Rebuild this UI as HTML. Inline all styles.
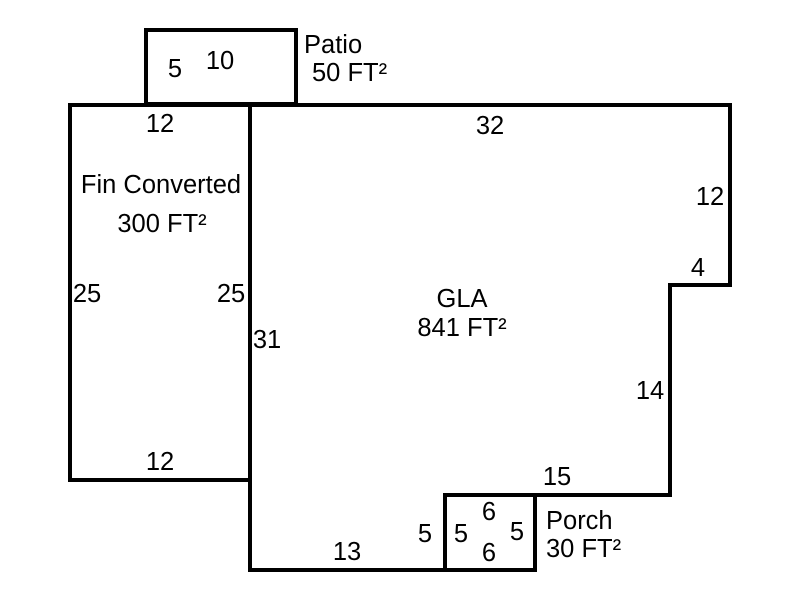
<!DOCTYPE html>
<html><head><meta charset="utf-8"><style>html,body{margin:0;padding:0;background:#fff}svg{display:block}</style></head>
<body>
<svg width="800" height="600" xmlns="http://www.w3.org/2000/svg" font-family="Liberation Sans, Arial, sans-serif" font-size="25.5" fill="#000">
<rect width="800" height="600" fill="#fff"/>
<g fill="none" stroke="#000" stroke-width="4">
<rect x="146" y="30" width="150" height="74"/>
<rect x="70" y="105" width="180" height="375"/>
<polygon points="250,105 730,105 730,285 670,285 670,495 445,495 445,570 250,570"/>
<rect x="445" y="495" width="90" height="75"/>
</g>
<g text-anchor="middle">
<text x="175" y="77">5</text>
<text x="220" y="69">10</text>
<text x="160" y="132">12</text>
<text x="490" y="134">32</text>
<text x="161" y="193">Fin Converted</text>
<text x="162" y="232">300 FT²</text>
<text x="710" y="205">12</text>
<text x="698" y="276">4</text>
<text x="87" y="302">25</text>
<text x="231" y="302">25</text>
<text x="462" y="307">GLA</text>
<text x="462" y="336">841 FT²</text>
<text x="267" y="348">31</text>
<text x="650" y="399">14</text>
<text x="160" y="470">12</text>
<text x="557" y="485">15</text>
<text x="489" y="520">6</text>
<text x="425" y="542">5</text>
<text x="461" y="542">5</text>
<text x="517" y="540">5</text>
<text x="489" y="561">6</text>
<text x="347" y="560">13</text>
</g>
<text x="304" y="53">Patio</text>
<text x="312" y="81">50 FT²</text>
<text x="546" y="529">Porch</text>
<text x="546" y="557">30 FT²</text>
</svg>
</body></html>
